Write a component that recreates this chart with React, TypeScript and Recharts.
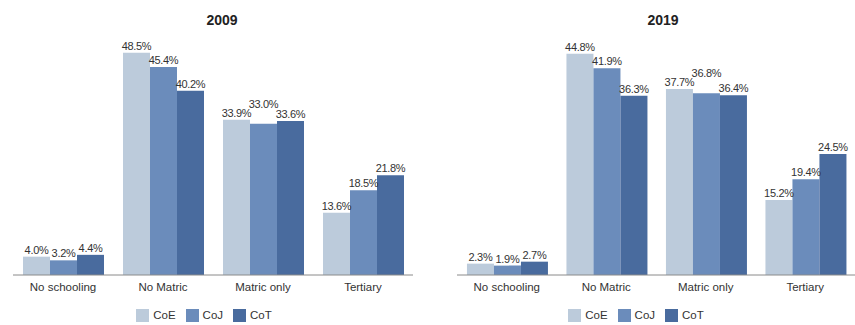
import { BarChart, Bar, XAxis, YAxis, Legend, LabelList } from 'recharts';

const categories = ['No schooling', 'No Matric', 'Matric only', 'Tertiary'];
const seriesNames = ['CoE', 'CoJ', 'CoT'];

const coe2009 = [4.0, 48.5, 33.9, 13.6];
const coj2009 = [3.2, 45.4, 33.0, 18.5];
const cot2009 = [4.4, 40.2, 33.6, 21.8];

const coe2019 = [2.3, 44.8, 37.7, 15.2];
const coj2019 = [1.9, 41.9, 36.8, 19.4];
const cot2019 = [2.7, 36.3, 36.4, 24.5];

const colors = ['#bccbdb', '#6b8cbb', '#496b9e'];
const font = '"Liberation Sans", Arial, sans-serif';
const labelStyle = { fontSize: 11, fill: '#333', fontFamily: font, letterSpacing: -0.3 };

function buildRows(coe: number[], coj: number[], cot: number[]) {
  return categories.map((name, i) => ({ name, CoE: coe[i], CoJ: coj[i], CoT: cot[i] }));
}

const fmt = (v: any) => (typeof v === 'number' ? v.toFixed(1) + '%' : v);

// middle bar label gets lifted when its neighbours are about the same height
function makeMiddleLabel(rows: ReturnType<typeof buildRows>) {
  return (props: any) => {
    const { x, y, width, value, index } = props;
    const r = rows[index];
    const crowded = r.CoJ > 10 && Math.abs(r.CoJ - r.CoE) < 3 && Math.abs(r.CoJ - r.CoT) < 3;
    const lift = crowded ? 13 : 0;
    return (
      <text
        x={x + width / 2}
        y={y - 3 - lift}
        textAnchor="middle"
        style={labelStyle}
      >
        {fmt(value)}
      </text>
    );
  };
}

interface PanelProps {
  title: string;
  rows: ReturnType<typeof buildRows>;
  left: number;
  width: number;
  margin: { top: number; right: number; left: number; bottom: number };
  yMax: number;
  titleX: number;
  legendShift: number;
}

function Panel({ title, rows, left, width, margin, yMax, titleX, legendShift }: PanelProps) {
  const middleLabel = makeMiddleLabel(rows);
  return (
    <div style={{ position: 'absolute', left, top: 0, width, height: 325 }}>
      <div
        style={{
          position: 'absolute',
          left: titleX - 40,
          width: 80,
          top: 12,
          textAlign: 'center',
          fontWeight: 'bold',
          fontSize: 14,
          color: '#222',
        }}
      >
        {title}
      </div>
      <BarChart
        width={width}
        height={325}
        data={rows}
        margin={margin}
        barCategoryGap="10%"
        barGap={0}
      >
        <XAxis
          dataKey="name"
          height={30}
          tickLine={false}
          axisLine={{ stroke: '#8a8a8a' }}
          tick={{ fontSize: 11.5, fill: '#333', fontFamily: font }}
          interval={0}
        />
        <YAxis hide domain={[0, yMax]} allowDataOverflow />
        <Legend
          height={20}
          iconType="square"
          iconSize={13}
          wrapperStyle={{ fontSize: 11.5, fontFamily: font, marginLeft: legendShift, bottom: -4 }}
          formatter={(value: string) => <span style={{ color: '#333' }}>{value}</span>}
        />
        {seriesNames.map((s, i) => (
          <Bar key={s} dataKey={s} fill={colors[i]} isAnimationActive={false}>
            {s === 'CoJ' ? (
              <LabelList dataKey={s} content={middleLabel} />
            ) : (
              <LabelList
                dataKey={s}
                position="top"
                formatter={fmt}
                style={labelStyle}
                offset={3}
              />
            )}
          </Bar>
        ))}
      </BarChart>
    </div>
  );
}

export default function App() {
  return (
    <div
      style={{
        position: 'absolute',
        left: 0,
        top: 0,
        width: 855,
        height: 325,
        background: '#fff',
        fontFamily: font,
      }}
    >
      <Panel
        title="2009"
        rows={buildRows(coe2009, coj2009, cot2009)}
        left={0}
        width={430}
        margin={{ top: 40, right: 17, left: 13, bottom: 0 }}
        yMax={51.3}
        titleX={222}
        legendShift={-4}
      />
      <Panel
        title="2019"
        rows={buildRows(coe2019, coj2019, cot2019)}
        left={430}
        width={425}
        margin={{ top: 40, right: 0, left: 27, bottom: 0 }}
        yMax={47.6}
        titleX={233}
        legendShift={-15}
      />
    </div>
  );
}
